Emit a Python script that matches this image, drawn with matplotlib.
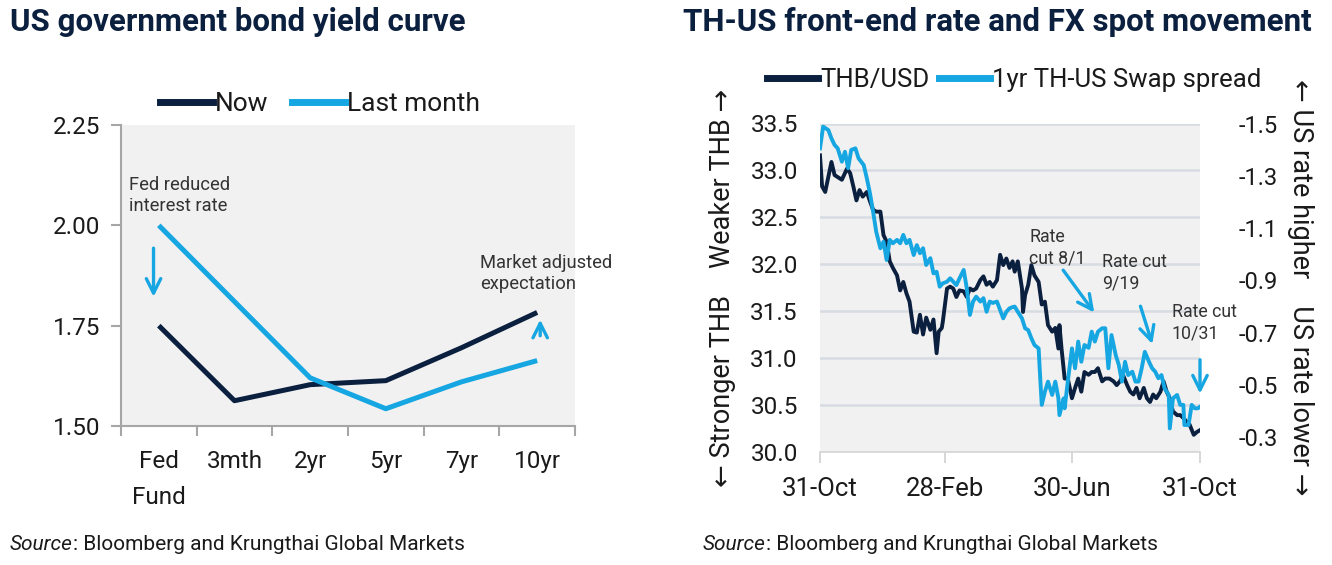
import matplotlib
matplotlib.use("Agg")
import matplotlib.pyplot as plt
import matplotlib.dates as mdates
import pandas as pd
from matplotlib.lines import Line2D

# ---------------- data ----------------
tenors = ["Fed\nFund", "3mth", "2yr", "5yr", "7yr", "10yr"]
yield_now = [1.75, 1.563, 1.603, 1.613, 1.695, 1.783]
yield_last_month = [2.00, 1.81, 1.62, 1.543, 1.61, 1.663]

thb_dates = ["2018-10-31", "2018-11-02", "2018-11-05", "2018-11-11", "2018-11-14", "2018-11-21",
             "2018-11-26", "2018-11-29", "2018-12-02", "2018-12-05", "2018-12-08", "2018-12-11",
             "2018-12-15", "2018-12-18", "2018-12-21", "2018-12-24", "2018-12-28", "2018-12-31",
             "2019-01-03", "2019-01-06", "2019-01-09", "2019-01-13", "2019-01-16", "2019-01-19",
             "2019-01-22", "2019-01-25", "2019-01-29", "2019-02-01", "2019-02-04", "2019-02-07",
             "2019-02-10", "2019-02-14", "2019-02-17", "2019-02-20", "2019-02-22", "2019-02-25",
             "2019-02-26", "2019-03-02", "2019-03-05", "2019-03-08", "2019-03-11", "2019-03-14",
             "2019-03-18", "2019-03-21", "2019-03-24", "2019-03-27", "2019-03-30", "2019-04-03",
             "2019-04-06", "2019-04-09", "2019-04-12", "2019-04-15", "2019-04-19", "2019-04-22",
             "2019-04-25", "2019-04-28", "2019-05-01", "2019-05-04", "2019-05-06", "2019-05-09",
             "2019-05-13", "2019-05-14", "2019-05-16", "2019-05-19", "2019-05-22", "2019-05-25",
             "2019-05-29", "2019-06-01", "2019-06-04", "2019-06-07", "2019-06-11", "2019-06-14",
             "2019-06-17", "2019-06-18", "2019-06-20", "2019-06-23", "2019-06-26", "2019-06-30",
             "2019-07-03", "2019-07-06", "2019-07-09", "2019-07-12", "2019-07-16", "2019-07-19",
             "2019-07-22", "2019-07-25", "2019-07-29", "2019-08-01", "2019-08-05", "2019-08-09",
             "2019-08-12", "2019-08-15", "2019-08-18", "2019-08-22", "2019-08-25", "2019-08-28",
             "2019-08-31", "2019-09-03", "2019-09-07", "2019-09-10", "2019-09-13", "2019-09-16",
             "2019-09-19", "2019-09-23", "2019-09-26", "2019-09-29", "2019-10-02", "2019-10-05",
             "2019-10-09", "2019-10-12", "2019-10-15", "2019-10-18", "2019-10-21", "2019-10-25",
             "2019-10-28", "2019-10-31"]
thb_usd = [33.16, 32.83, 32.77, 33.09, 32.95, 32.90,
           33.02, 32.97, 32.83, 32.68, 32.79, 32.72,
           32.77, 32.67, 32.58, 32.56, 32.56, 32.31,
           32.24, 32.03, 31.96, 31.88, 31.72, 31.81,
           31.69, 31.60, 31.28, 31.27, 31.46, 31.25,
           31.43, 31.30, 31.41, 31.05, 31.28, 31.32,
           31.39, 31.74, 31.76, 31.74, 31.65, 31.72,
           31.71, 31.65, 31.74, 31.72, 31.74, 31.83,
           31.87, 31.78, 31.81, 31.76, 31.83, 32.10,
           31.99, 32.06, 31.96, 32.03, 31.92, 32.03,
           31.74, 31.49, 31.67, 31.78, 31.99, 31.88,
           31.81, 31.57, 31.60, 31.35, 31.28, 31.32,
           31.10, 31.35, 31.10, 30.78, 30.78, 30.57,
           30.68, 30.78, 30.64, 30.85, 30.82, 30.85,
           30.85, 30.89, 30.75, 30.78, 30.78, 30.75,
           30.71, 30.75, 30.82, 30.71, 30.64, 30.61,
           30.68, 30.57, 30.68, 30.57, 30.53, 30.61,
           30.57, 30.64, 30.75, 30.64, 30.57, 30.43,
           30.39, 30.39, 30.36, 30.32, 30.29, 30.18,
           30.21, 30.23]

swap_dates = ["2018-10-31", "2018-11-03", "2018-11-08", "2018-11-11", "2018-11-14", "2018-11-17",
              "2018-11-21", "2018-11-24", "2018-11-27", "2018-11-30", "2018-12-04", "2018-12-07",
              "2018-12-12", "2018-12-15", "2018-12-18", "2018-12-21", "2018-12-24", "2018-12-28",
              "2018-12-31", "2019-01-03", "2019-01-06", "2019-01-09", "2019-01-13", "2019-01-16",
              "2019-01-19", "2019-01-22", "2019-01-25", "2019-01-29", "2019-02-01", "2019-02-04",
              "2019-02-07", "2019-02-10", "2019-02-14", "2019-02-17", "2019-02-20", "2019-02-23",
              "2019-02-26", "2019-03-02", "2019-03-05", "2019-03-08", "2019-03-11", "2019-03-14",
              "2019-03-18", "2019-03-21", "2019-03-24", "2019-03-27", "2019-03-30", "2019-04-03",
              "2019-04-06", "2019-04-09", "2019-04-12", "2019-04-15", "2019-04-19", "2019-04-22",
              "2019-04-25", "2019-04-28", "2019-05-01", "2019-05-04", "2019-05-06", "2019-05-09",
              "2019-05-13", "2019-05-16", "2019-05-19", "2019-05-22", "2019-05-25", "2019-05-29",
              "2019-05-30", "2019-06-01", "2019-06-04", "2019-06-07", "2019-06-11", "2019-06-14",
              "2019-06-17", "2019-06-18", "2019-06-22", "2019-06-23", "2019-06-26", "2019-06-30",
              "2019-07-03", "2019-07-06", "2019-07-09", "2019-07-12", "2019-07-16", "2019-07-19",
              "2019-07-22", "2019-07-25", "2019-07-29", "2019-08-01", "2019-08-04", "2019-08-07",
              "2019-08-11", "2019-08-14", "2019-08-17", "2019-08-20", "2019-08-23", "2019-08-27",
              "2019-08-30", "2019-09-02", "2019-09-05", "2019-09-08", "2019-09-12", "2019-09-15",
              "2019-09-18", "2019-09-21", "2019-09-24", "2019-09-27", "2019-10-01", "2019-10-02",
              "2019-10-05", "2019-10-09", "2019-10-12", "2019-10-15", "2019-10-16", "2019-10-20",
              "2019-10-23", "2019-10-26", "2019-10-29", "2019-10-31"]
swap_spread = [-1.405, -1.488, -1.475, -1.443, -1.418, -1.405,
               -1.354, -1.392, -1.329, -1.399, -1.405, -1.367,
               -1.341, -1.290, -1.233, -1.163, -1.086, -1.023,
               -1.048, -0.978, -1.055, -1.042, -1.055, -1.042,
               -1.074, -1.042, -1.055, -0.997, -1.035, -1.004,
               -1.023, -0.959, -0.985, -0.927, -0.933, -0.876,
               -0.889, -0.895, -0.908, -0.895, -0.882, -0.908,
               -0.940, -0.870, -0.768, -0.819, -0.838, -0.819,
               -0.832, -0.780, -0.819, -0.814, -0.819, -0.787,
               -0.755, -0.780, -0.793, -0.798, -0.800, -0.780,
               -0.755, -0.717, -0.710, -0.679, -0.653, -0.640,
               -0.564, -0.424, -0.474, -0.513, -0.462, -0.513,
               -0.449, -0.385, -0.449, -0.411, -0.513, -0.640,
               -0.564, -0.666, -0.589, -0.653, -0.642, -0.704,
               -0.666, -0.704, -0.717, -0.717, -0.564, -0.691,
               -0.615, -0.577, -0.513, -0.589, -0.538, -0.551,
               -0.513, -0.513, -0.564, -0.627, -0.589, -0.564,
               -0.551, -0.526, -0.538, -0.487, -0.462, -0.334,
               -0.449, -0.462, -0.424, -0.424, -0.347, -0.347,
               -0.424, -0.411, -0.411, -0.417]

thb_ticks = [30.0, 30.5, 31.0, 31.5, 32.0, 32.5, 33.0, 33.5]
swap_ticks = [-1.5, -1.3, -1.1, -0.9, -0.7, -0.5, -0.3]
date_ticks = ["2018-10-31", "2019-02-28", "2019-06-30", "2019-10-31"]

# ---------------- style ----------------
NAVY = "#0b1f3f"
BLUE = "#16a6e1"
BG = "#f1f1f1"
TXT = "#1a1a1a"
FONT = ["Roboto", "DejaVu Sans"]
plt.rcParams["font.family"] = FONT

W, H = 1332, 565
fig = plt.figure(figsize=(W / 100, H / 100), dpi=100)
fig.patch.set_facecolor("white")


def fx(px):
    return px / W


def fy(py):
    return 1 - py / H


# ---------------- left chart ----------------
axL = fig.add_axes([fx(121), fy(426), fx(575) - fx(121), fy(125) - fy(426)])
axL.set_facecolor(BG)
xs = list(range(len(tenors)))
axL.plot(xs, yield_now, color=NAVY, lw=3.6, solid_capstyle="butt", label="Now")
axL.plot(xs, yield_last_month, color=BLUE, lw=3.6, solid_capstyle="butt", label="Last month")
axL.set_xlim(-0.5, len(tenors) - 0.5)
axL.set_ylim(1.50, 2.25)
axL.set_yticks([1.50, 1.75, 2.00, 2.25])
axL.set_yticklabels(["1.50", "1.75", "2.00", "2.25"])
axL.set_xticks([i - 0.5 for i in range(len(tenors) + 1)])
axL.set_xticklabels([])
axL.set_xticks(xs, minor=True)
axL.set_xticklabels(tenors, minor=True, linespacing=1.75, va="top")
axL.tick_params(axis="x", which="minor", length=0, pad=17, labelsize=17.5, labelcolor=TXT)
axL.tick_params(axis="x", which="major", length=7, width=1.5, color="#a6a6a6", direction="out")
axL.tick_params(axis="y", length=7, width=1.5, color="#a6a6a6", pad=8, labelsize=17.5, labelcolor=TXT)
for s in ["top", "right"]:
    axL.spines[s].set_visible(False)
for s in ["left", "bottom"]:
    axL.spines[s].set_color("#a6a6a6")
    axL.spines[s].set_linewidth(1.5)

axL.text(-0.4, 2.074, "Fed reduced\ninterest rate", fontsize=13.2, color="#333333",
         va="center", ha="left", linespacing=1.25)
axL.annotate("", xy=(-0.07, 1.815), xytext=(-0.07, 1.95),
             arrowprops=dict(arrowstyle="->", color=BLUE, lw=2.4, mutation_scale=26))
axL.text(4.24, 1.880, "Market adjusted\nexpectation", fontsize=13.2, color="#333333",
         va="center", ha="left", linespacing=1.25)
axL.annotate("", xy=(5.04, 1.772), xytext=(5.04, 1.718),
             arrowprops=dict(arrowstyle="->", color=BLUE, lw=2.4, mutation_scale=26))

handlesL = [Line2D([], [], color=NAVY, lw=5), Line2D([], [], color=BLUE, lw=5)]
fig.legend(handlesL, ["Now", "Last month"], loc="center left",
           bbox_to_anchor=(fx(160), fy(104)), ncol=2, frameon=False, fontsize=19,
           handlelength=2.0, handletextpad=0.08, columnspacing=0.9, borderpad=0,
           borderaxespad=0, labelcolor=TXT)

# ---------------- right chart ----------------
axR = fig.add_axes([fx(820), fy(451.7), fx(1200) - fx(820), fy(123.5) - fy(451.7)])
axR.set_facecolor(BG)
d_thb = pd.to_datetime(thb_dates)
d_swap = pd.to_datetime(swap_dates)
axR.plot(d_thb, thb_usd, color=NAVY, lw=2.8, zorder=3)
axR.set_ylim(30.0, 33.5)
axR.set_yticks(thb_ticks)
axR.set_yticklabels([f"{v:.1f}" for v in thb_ticks])
axR.set_xlim(pd.Timestamp(date_ticks[0]), pd.Timestamp(date_ticks[-1]))
axR.set_xticks(pd.to_datetime(date_ticks))
axR.xaxis.set_major_formatter(mdates.DateFormatter("%d-%b"))
axR.grid(axis="y", color="#d7dce2", lw=1.8)
axR.set_axisbelow(True)
axR.tick_params(axis="y", length=0, pad=16, labelsize=17.5, labelcolor=TXT)
axR.tick_params(axis="x", length=8, width=1.2, color="#cfcfcf", pad=10, labelsize=18.5, labelcolor=TXT)
for s in ["top", "right", "left"]:
    axR.spines[s].set_visible(False)
axR.spines["bottom"].set_color("#d6d6d6")
axR.spines["bottom"].set_linewidth(1.2)

axR2 = axR.twinx()
axR2.plot(d_swap, swap_spread, color=BLUE, lw=2.8, zorder=2)
axR2.set_ylim(-0.245, -1.5)
axR2.set_yticks(swap_ticks)
axR2.set_yticklabels([f"{v:.1f}" for v in swap_ticks])
axR2.tick_params(axis="y", length=0, pad=28, labelsize=17, labelcolor=TXT)
for s in ["top", "right", "left", "bottom"]:
    axR2.spines[s].set_visible(False)

axR.set_ylabel("\u2190 Stronger THB    Weaker THB \u2192", fontsize=19.5, color=TXT,
               labelpad=10)
axR2.set_ylabel("\u2190 US rate higher    US rate lower \u2192", fontsize=19.5, color=TXT,
                rotation=270, labelpad=6, va="bottom")


# rate-cut annotations (data coords of the THB axis)
def ann(text, tx, ty, x0, y0, x1, y1):
    axR.text(pd.Timestamp(tx), ty, text, fontsize=12.8, color="#333333",
             ha="left", va="center", linespacing=1.25)
    axR.annotate("", xy=(pd.Timestamp(x1), y1), xytext=(pd.Timestamp(x0), y0),
                 arrowprops=dict(arrowstyle="->", color=BLUE, lw=2.4, mutation_scale=26))


ann("Rate\ncut 8/1", "2019-05-20", 32.18, "2019-06-20", 31.96, "2019-07-23", 31.46)
ann("Rate cut\n9/19", "2019-07-29", 31.91, "2019-09-03", 31.58, "2019-09-16", 31.12)
ann("Rate cut\n10/31", "2019-10-04", 31.37, "2019-10-31", 31.01, "2019-10-31", 30.59)

handlesR = [Line2D([], [], color=NAVY, lw=5), Line2D([], [], color=BLUE, lw=5)]
fig.legend(handlesR, ["THB/USD", "1yr TH-US Swap spread"], loc="center left",
           bbox_to_anchor=(fx(767), fy(80)), ncol=2, frameon=False, fontsize=18.5,
           handlelength=2.0, handletextpad=0.08, columnspacing=0.35, borderpad=0,
           borderaxespad=0, labelcolor=TXT)

# ---------------- titles & sources ----------------
fig.text(fx(10), fy(22), "US government bond yield curve", fontsize=22.5, fontweight="bold",
         color=NAVY, ha="left", va="center")
fig.text(fx(683), fy(22), "TH-US front-end rate and FX spot movement", fontsize=22.5,
         fontweight="bold", color=NAVY, ha="left", va="center")

for x0 in (10, 703):
    t1 = fig.text(fx(x0), fy(545), "Source", fontsize=15, style="italic", color=TXT,
                  ha="left", va="center")
    plt.annotate(": Bloomberg and Krungthai Global Markets", xy=(1, 0.5), xycoords=t1,
                 fontsize=15, color=TXT, ha="left", va="center", annotation_clip=False)

fig.savefig("out.png", dpi=100, facecolor="white")
